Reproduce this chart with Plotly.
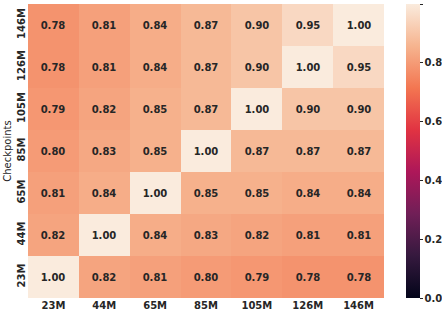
import plotly.graph_objects as go

labels = ["23M", "44M", "65M", "85M", "105M", "126M", "146M"]
# rows from bottom (23M) to top (146M)
row_23M = [1.00, 0.82, 0.81, 0.80, 0.79, 0.78, 0.78]
row_44M = [0.82, 1.00, 0.84, 0.83, 0.82, 0.81, 0.81]
row_65M = [0.81, 0.84, 1.00, 0.85, 0.85, 0.84, 0.84]
row_85M = [0.80, 0.83, 0.85, 1.00, 0.87, 0.87, 0.87]
row_105M = [0.79, 0.82, 0.85, 0.87, 1.00, 0.90, 0.90]
row_126M = [0.78, 0.81, 0.84, 0.87, 0.90, 1.00, 0.95]
row_146M = [0.78, 0.81, 0.84, 0.87, 0.90, 0.95, 1.00]
z = [row_23M, row_44M, row_65M, row_85M, row_105M, row_126M, row_146M]

rocket = [
    [0.0, "#03051a"],
    [1/7, "#35193e"],
    [2/7, "#701f57"],
    [3/7, "#ad1759"],
    [4/7, "#e13342"],
    [5/7, "#f37651"],
    [6/7, "#f6b48f"],
    [1.0, "#faebdd"],
]

font_fam = "DejaVu Sans"

fig = go.Figure(go.Heatmap(
    z=z, x=labels, y=labels,
    zmin=0, zmax=1,
    colorscale=rocket,
    texttemplate="%{z:.2f}",
    textfont=dict(family=font_fam, size=10, color="#262626", weight="bold"),
    colorbar=dict(
        x=(406 - 28) / 356, xanchor="left", xref="paper", xpad=0, ypad=0,
        y=0.5, yanchor="middle", len=1.0, lenmode="fraction",
        thickness=14, outlinewidth=0,
        tickvals=[0, 0.2, 0.4, 0.6, 0.8, 1.0],
        ticktext=["0.0", "0.2", "0.4", "0.6", "0.8", "1.0"],
        ticks="outside", ticklen=3, tickcolor="#262626",
        tickfont=dict(family=font_fam, size=10, color="#262626", weight="bold"),
    ),
    xgap=0, ygap=0,
))

fig.update_layout(
    width=442, height=312,
    margin=dict(l=28, r=58, t=4, b=14, autoexpand=False),
    paper_bgcolor="white", plot_bgcolor="white",
    font=dict(family=font_fam, size=10, color="#262626"),
)
fig.update_xaxes(
    showgrid=False, zeroline=False, ticks="", automargin=False,
    tickfont=dict(family=font_fam, size=10, color="#262626", weight="bold"),
)
fig.update_yaxes(
    showgrid=False, zeroline=False, ticks="", automargin=False,
    tickangle=-90,
    tickfont=dict(family=font_fam, size=10, color="#262626", weight="bold"),
    title=dict(text="Checkpoints", font=dict(family=font_fam, size=10, color="#262626"), standoff=2),
)

fig.write_html(
    "out.html",
    config={"displayModeBar": False},
    post_script="document.body.style.margin='0';document.body.style.overflow='hidden';",
)
